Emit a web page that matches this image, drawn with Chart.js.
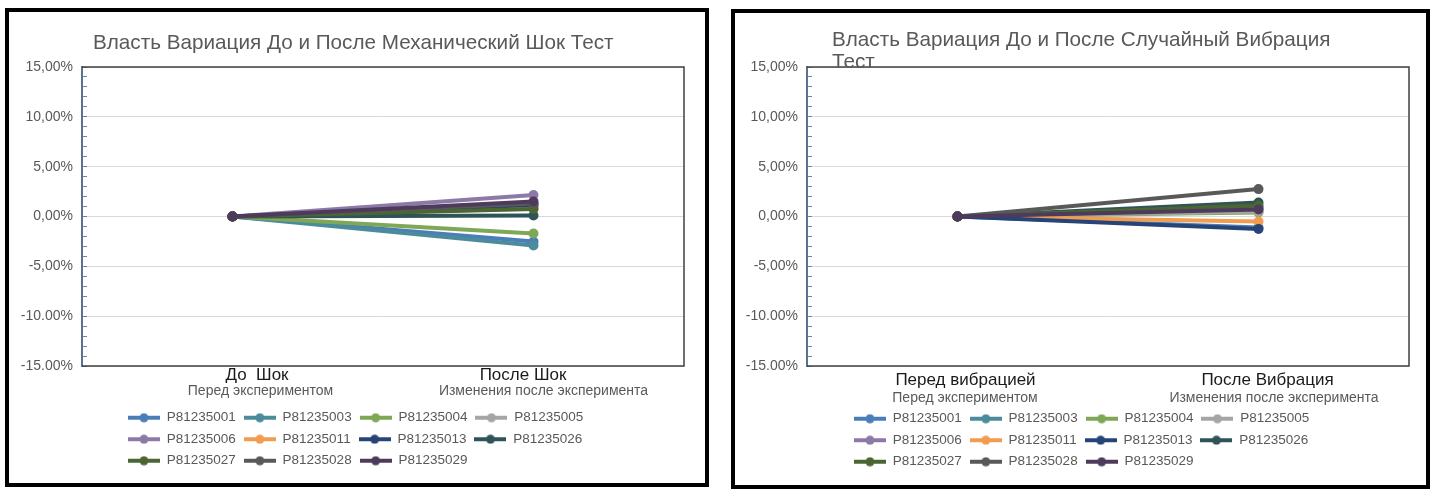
<!DOCTYPE html>
<html>
<head>
<meta charset="utf-8">
<script src="https://cdn.jsdelivr.net/npm/chart.js@4.4.1/dist/chart.umd.min.js"></script>
<style>
  body { margin:0; background:#fff; width:1436px; height:496px; position:relative; overflow:hidden; }
  .panel { position:absolute; border:4px solid #000; background:#fff; }
  #panelShock { left:5px; top:8px; width:696px; height:471px; }
  #panelVib { left:731px; top:9px; width:691px; height:472px; }
  canvas { display:block; }
</style>
</head>
<body>
<div class="panel" id="panelShock"><canvas id="shockChart" width="696" height="471"></canvas></div>
<div class="panel" id="panelVib"><canvas id="vibChart" width="691" height="472"></canvas></div>

<script>
// ---- data ----
const seriesNames = ['P81235001', 'P81235003', 'P81235004', 'P81235005', 'P81235006', 'P81235011',
                     'P81235013', 'P81235026', 'P81235027', 'P81235028', 'P81235029'];
const seriesColors = ['#4a7ebb', '#4b8b9b', '#7ea855', '#a5a5a5', '#8c79a8', '#f19c4f',
                      '#264478', '#2e5458', '#4b6632', '#595959', '#4e3b5c'];

const yTickLabels = ['15,00%', '10,00%', '5,00%', '0,00%', '-5,00%', '-10.00%', '-15.00%'];

const shockTitle = ['Власть Вариация До и После Механический Шок Тест'];
const shockCategories = ['До  Шок', 'После Шок'];
const shockSubLabels = ['Перед экспериментом', 'Изменения после эксперимента'];
const shockBefore = [0, 0, 0, 0, 0, 0, 0, 0, 0, 0, 0];
const shockAfter = [-2.5, -2.9, -1.7, 1.0, 2.15, 0.8, 1.15, 0.1, 0.75, 1.3, 1.5];

const vibTitle = ['Власть Вариация До и После Случайный Вибрация', 'Тест'];
const vibCategories = ['Перед вибрацией', 'После Вибрация'];
const vibSubLabels = ['Перед экспериментом', 'Изменения после эксперимента'];
const vibBefore = [0, 0, 0, 0, 0, 0, 0, 0, 0, 0, 0];
const vibAfter = [-1.1, 0.9, 0.4, 0.5, 0.8, -0.5, -1.25, 1.4, 1.1, 2.75, 0.7];

Chart.defaults.font.family = "'Liberation Sans', Arial, sans-serif";

// little line+dot image used as legend marker
function swatch(color) {
    const c = document.createElement('canvas');
    c.width = 32; c.height = 10;
    const g = c.getContext('2d');
    g.strokeStyle = color; g.lineWidth = 4;
    g.beginPath(); g.moveTo(0, 5); g.lineTo(32, 5); g.stroke();
    g.fillStyle = color;
    g.beginPath(); g.arc(16, 5, 4.5, 0, Math.PI * 2); g.fill();
    return c;
}

// keeps legend at 4 items per row, left aligned in a fixed box
const legendRows = {
    id: 'legendRows',
    afterInit(chart, args, opts) {
        const lg = chart.legend;
        const upd = lg.update.bind(lg);
        lg.update = (w, h, m) => upd(Math.min(w, opts.width), h, m);
    },
    afterLayout(chart, args, opts) {
        const lg = chart.legend;
        const h = lg.height;
        lg.left = opts.left; lg.right = opts.left + opts.width;
        lg.top = opts.top; lg.bottom = opts.top + h;
    }
};

const plotFrame = {
    id: 'plotFrame',
    beforeDatasetsDraw(chart) {
        const {ctx, chartArea: a} = chart;
        ctx.save();
        ctx.strokeStyle = '#404040';
        ctx.lineWidth = 1.5;
        ctx.beginPath();
        ctx.moveTo(a.left, a.top); ctx.lineTo(a.right, a.top);
        ctx.lineTo(a.right, a.bottom); ctx.lineTo(a.left, a.bottom);
        ctx.stroke();
        ctx.restore();
    }
};

const titleText = {
    id: 'titleText',
    afterDraw(chart, args, opts) {
        const ctx = chart.ctx;
        ctx.save();
        ctx.font = '20.7px ' + Chart.defaults.font.family;
        ctx.fillStyle = '#595959';
        ctx.textAlign = 'left';
        ctx.textBaseline = 'middle';
        opts.lines.forEach((t, i) => ctx.fillText(t, opts.x, opts.y + i * 22));
        ctx.restore();
    }
};

const catLabels = {
    id: 'catLabels',
    afterDraw(chart, args, opts) {
        const ctx = chart.ctx;
        const xs = chart.scales.x;
        const b = chart.chartArea.bottom;
        ctx.save();
        ctx.textAlign = 'center';
        ctx.textBaseline = 'middle';
        opts.main.forEach((t, i) => {
            const x = xs.getPixelForValue(i);
            ctx.font = '17px ' + Chart.defaults.font.family;
            ctx.fillStyle = '#1a1a1a';
            ctx.fillText(t, x + opts.mainDx[i], b + opts.mainDy);
            ctx.font = '14px ' + Chart.defaults.font.family;
            ctx.fillStyle = '#595959';
            ctx.fillText(opts.sub[i], x + opts.subDx[i], b + opts.subDy);
        });
        ctx.restore();
    }
};

function buildChart(id, cfg) {
    const canvas = document.getElementById(id);
    const W = canvas.width, H = canvas.height;
    const datasets = seriesNames.map((name, i) => ({
        label: name,
        data: [cfg.before[i], cfg.after[i]],
        borderColor: seriesColors[i],
        backgroundColor: seriesColors[i],
        borderWidth: 4,
        pointRadius: 5,
        pointBorderWidth: 0,
        order: seriesNames.length - i
    }));

    return new Chart(canvas.getContext('2d'), {
        type: 'line',
        data: { labels: cfg.categories, datasets },
        options: {
            responsive: false,
            animation: false,
            events: [],
            layout: { padding: { left: 0, right: W - cfg.plot.right, top: cfg.plot.top, bottom: 0 } },
            scales: {
                x: {
                    type: 'category',
                    offset: true,
                    ticks: { display: false },
                    grid: { display: false },
                    border: { display: false },
                    afterFit: (s) => { s.height = H - cfg.plot.bottom - 74.5; }
                },
                y: {
                    min: -15, max: 15,
                    afterFit: (s) => { s.width = cfg.plot.left; },
                    ticks: {
                        stepSize: 1,
                        autoSkip: false,
                        padding: 14,
                        color: '#595959',
                        font: { size: 14 },
                        callback: (v) => {
                            const k = Math.round(v);
                            return k % 5 === 0 ? yTickLabels[(15 - k) / 5] : '';
                        }
                    },
                    grid: {
                        color: (c) => Math.round(c.tick.value) % 5 === 0 ? '#d9d9d9' : 'rgba(0,0,0,0)',
                        lineWidth: 1,
                        tickLength: -5,
                        tickColor: '#6f84a0',
                        tickWidth: 1
                    },
                    border: { color: '#5b7290', width: 2 }
                }
            },
            plugins: {
                legend: {
                    position: 'bottom',
                    align: 'start',
                    labels: {
                        usePointStyle: true,
                        pointStyleWidth: 32,
                        padding: 8,
                        color: '#595959',
                        font: { size: 13.5 },
                        generateLabels: (chart) => chart.data.datasets.map((d, i) => ({
                            text: d.label,
                            fillStyle: d.borderColor,
                            strokeStyle: d.borderColor,
                            fontColor: '#595959',
                            lineWidth: 0,
                            pointStyle: swatch(d.borderColor),
                            datasetIndex: i,
                            hidden: false
                        }))
                    }
                },
                tooltip: { enabled: false },
                legendRows: { left: 111, width: 500, top: cfg.legendTop },
                titleText: cfg.title,
                catLabels: cfg.labels
            }
        },
        plugins: [legendRows, plotFrame, titleText, catLabels]
    });
}

document.addEventListener('DOMContentLoaded', function () {
    buildChart('shockChart', {
        categories: shockCategories,
        before: shockBefore,
        after: shockAfter,
        plot: { left: 73, right: 675, top: 55, bottom: 354 },
        legendTop: 391,
        title: { lines: shockTitle, x: 84, y: 31 },
        labels: { main: shockCategories, sub: shockSubLabels,
                  mainDx: [24.5, -10.5], subDx: [28, 10], mainDy: 9, subDy: 25 }
    });
    buildChart('vibChart', {
        categories: vibCategories,
        before: vibBefore,
        after: vibAfter,
        plot: { left: 72, right: 674, top: 54, bottom: 353 },
        legendTop: 391,
        title: { lines: vibTitle, x: 97, y: 27 },
        labels: { main: vibCategories, sub: vibSubLabels,
                  mainDx: [8, 9], subDx: [7.5, 15.5], mainDy: 14, subDy: 32 }
    });
}, false);
</script>
</body>
</html>
